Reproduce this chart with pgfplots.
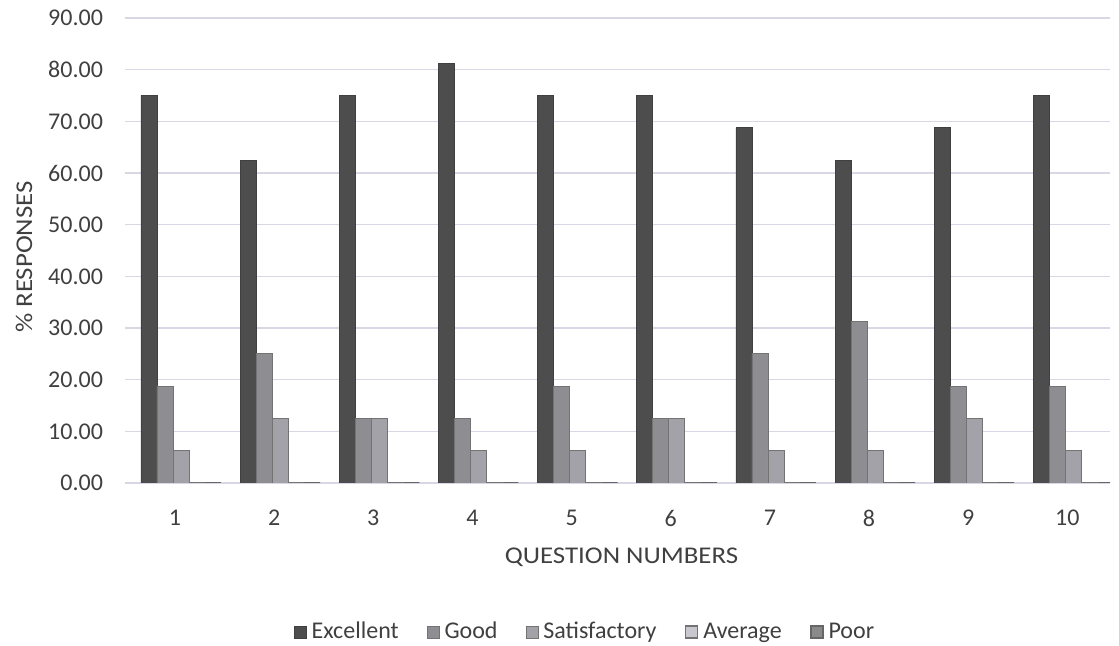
\documentclass[border=0pt]{standalone}
\usepackage{pgfplots}
\pgfplotsset{compat=1.18}
\usepackage{fontspec}
\setmainfont{Carlito}
\definecolor{cExc}{HTML}{4D4D4D}
\definecolor{cGood}{HTML}{8E8E92}
\definecolor{cSat}{HTML}{A3A2A8}
\definecolor{cAvg}{HTML}{C9C8D0}
\definecolor{cPoor}{HTML}{8A8A8A}
\definecolor{txt}{HTML}{404040}
\definecolor{gridc}{HTML}{DAD6E6}
\newfontfamily\widel[FakeStretch=1.12]{Carlito}
\newcommand\lab{\fontsize{12}{14}\selectfont\widel}
\newcommand\tf{\fontsize{12}{14}\selectfont}
\begin{document}
\begin{tikzpicture}
\useasboundingbox (0,0) rectangle (559.5pt,323pt);
\begin{axis}[
  at={(62.5pt,81.5pt)}, anchor=origin,
  scale only axis, width=492.5pt, height=232.5pt,
  xmin=0.496, xmax=10.43, ymin=0, ymax=90,
  ytick={0,10,...,90}, xtick={1,...,10},
  xticklabels={\tf 1,\tf 2,\tf 3,\tf 4,\tf 5,\tf 6,\tf 7,\tf 8,\tf 9,\tf 10},
  yticklabel={\tf\pgfmathprintnumber[fixed,fixed zerofill,precision=2,assume math mode=true]{\tick}},
  ymajorgrids=true, xmajorgrids=false, major grid style={color=gridc, line width=0.6pt},
  axis line style={draw=none}, major tick length=0pt,
  tick label style={text=txt},
  yticklabel style={xshift=-7.5pt},
  xticklabel style={yshift=-10pt},
  ylabel={\% RESPONSES}, xlabel={QUESTION NUMBERS},
  every axis y label/.style={at={(axis description cs:-0.1025,0.486)}, rotate=90, anchor=center, font=\lab, text=txt},
  every axis x label/.style={at={(axis description cs:0.504,-0.1591)}, anchor=center, font=\lab, text=txt},
  ybar=0pt, bar width=8pt,
  legend columns=5,
  legend style={draw=none, at={(0.467,-0.3204)}, anchor=center, font=\tf, text=txt,
     nodes={inner sep=1pt},
     /tikz/every odd column/.append style={column sep=1.5pt},
     /tikz/every even column/.append style={column sep=13pt}},
  legend image code/.code={\fill[#1] (0pt,-3pt) rectangle (6pt,3pt);},
]
\addplot[fill=cExc, draw=black!75, bar shift=-13pt] coordinates {(1,75) (2,62.5) (3,75) (4,81.25) (5,75) (6,75) (7,68.75) (8,62.5) (9,68.75) (10,75)};
\addplot[fill=cGood, draw=black!55, bar shift=-5pt] coordinates {(1,18.75) (2,25) (3,12.5) (4,12.5) (5,18.75) (6,12.5) (7,25) (8,31.25) (9,18.75) (10,18.75)};
\addplot[fill=cSat, draw=black!55, bar shift=3pt] coordinates {(1,6.25) (2,12.5) (3,12.5) (4,6.25) (5,6.25) (6,12.5) (7,6.25) (8,6.25) (9,12.5) (10,6.25)};
\addplot[fill=cAvg, draw=black!55, line width=0.9pt, bar shift=11pt] coordinates {(1,0) (2,0) (3,0) (4,0) (5,0) (6,0) (7,0) (8,0) (9,0) (10,0)};
\addplot[fill=cPoor, draw=black!60, line width=0.9pt, bar shift=19pt] coordinates {(1,0) (2,0) (3,0) (4,0) (5,0) (6,0) (7,0) (8,0) (9,0) (10,0)};
\legend{Excellent, Good, Satisfactory, Average, Poor}
\end{axis}
\end{tikzpicture}
\end{document}
